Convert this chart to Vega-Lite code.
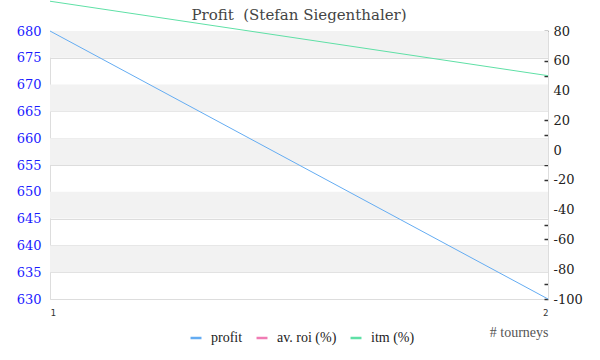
{
  "$schema": "https://vega.github.io/schema/vega-lite/v6.json",
  "width": 498,
  "height": 268,
  "autosize": "none",
  "padding": {"left": 50, "top": 31, "right": 52, "bottom": 61},
  "background": "white",
  "title": {"text": "Profit\u00a0\u00a0(Stefan Siegenthaler)", "font": "DejaVu Serif", "fontSize": 15, "fontWeight": "normal", "color": "#444444", "offset": -24, "anchor": "middle"},
  "config": {"view": {"stroke": null}},
  "data": {"values": [
    {"tourney": 1, "series": "profit", "value": 680},
    {"tourney": 2, "series": "profit", "value": 630},
    {"tourney": 1, "series": "itm (%)", "value": 100},
    {"tourney": 2, "series": "itm (%)", "value": 50}
  ]},
  "layer": [
    {
      "data": {"values": [
        {"lo": 675, "hi": 680}, {"lo": 665, "hi": 670}, {"lo": 655, "hi": 660}, {"lo": 645, "hi": 650}, {"lo": 635, "hi": 640}
      ]},
      "mark": {"type": "rect", "fill": "#f2f2f2"},
      "encoding": {
        "y": {"field": "lo", "type": "quantitative", "scale": {"domain": [630, 680], "nice": false, "zero": false},
          "axis": {"orient": "left", "title": null, "values": [630, 635, 640, 645, 650, 655, 660, 665, 670, 675, 680], "labelOverlap": false, "ticks": false, "domain": true, "domainColor": "#dddddd", "grid": true, "gridColor": "#dddddd", "labelColor": "#1a1aff", "labelFont": "DejaVu Serif", "labelFontSize": 13, "labelPadding": 9}},
        "y2": {"field": "hi"}
      }
    },
    {
      "transform": [{"filter": "datum.series !== 'profit'"}],
      "mark": {"type": "line", "strokeWidth": 1},
      "encoding": {
        "x": {"field": "tourney", "type": "quantitative", "scale": {"domain": [1, 2], "nice": false, "zero": false},
          "axis": {"values": [1, 2], "format": "d", "ticks": false, "grid": false, "domainColor": "#dddddd", "labelFont": "DejaVu Sans Mono", "labelFontSize": 9, "labelColor": "#333333", "labelPadding": 9, "title": "# tourneys", "titleAnchor": "end", "titleFont": "Liberation Serif", "titleFontSize": 14, "titleFontWeight": "normal", "titleColor": "#555555", "titlePadding": 8}},
        "y": {"field": "value", "type": "quantitative", "scale": {"domain": [-100, 80], "nice": false, "zero": false},
          "axis": {"orient": "right", "title": null, "values": [-100, -90, -80, -70, -60, -50, -40, -30, -20, -10, 0, 10, 20, 30, 40, 50, 60, 70, 80], "labelOverlap": false, "labelExpr": "datum.value % 20 === 0 ? '' + datum.value : ''", "ticks": true, "tickSize": -4, "tickColor": "#333333", "tickWidth": 1.5, "domain": true, "domainColor": "#dddddd", "grid": false, "labelColor": "#222222", "labelFont": "DejaVu Serif", "labelFontSize": 13, "labelPadding": 9}},
        "color": {"field": "series", "type": "nominal",
          "scale": {"domain": ["profit", "av. roi (%)", "itm (%)"], "range": ["#64acf2", "#f07cb4", "#5fe0a6"]},
          "legend": {"orient": "none", "legendX": 139, "legendY": 300, "direction": "horizontal", "title": null, "symbolType": "stroke", "symbolStrokeWidth": 2.5, "symbolSize": 120, "labelFont": "Liberation Serif", "labelFontSize": 14, "labelColor": "#222222", "columnPadding": 8, "labelOffset": 8}}
      }
    },
    {
      "transform": [{"filter": "datum.series === 'profit'"}],
      "mark": {"type": "line", "strokeWidth": 1},
      "encoding": {
        "x": {"field": "tourney", "type": "quantitative"},
        "y": {"field": "value", "type": "quantitative", "scale": {"domain": [630, 680], "nice": false, "zero": false}, "axis": null},
        "color": {"field": "series", "type": "nominal"}
      }
    }
  ],
  "resolve": {"scale": {"y": "independent"}}
}
